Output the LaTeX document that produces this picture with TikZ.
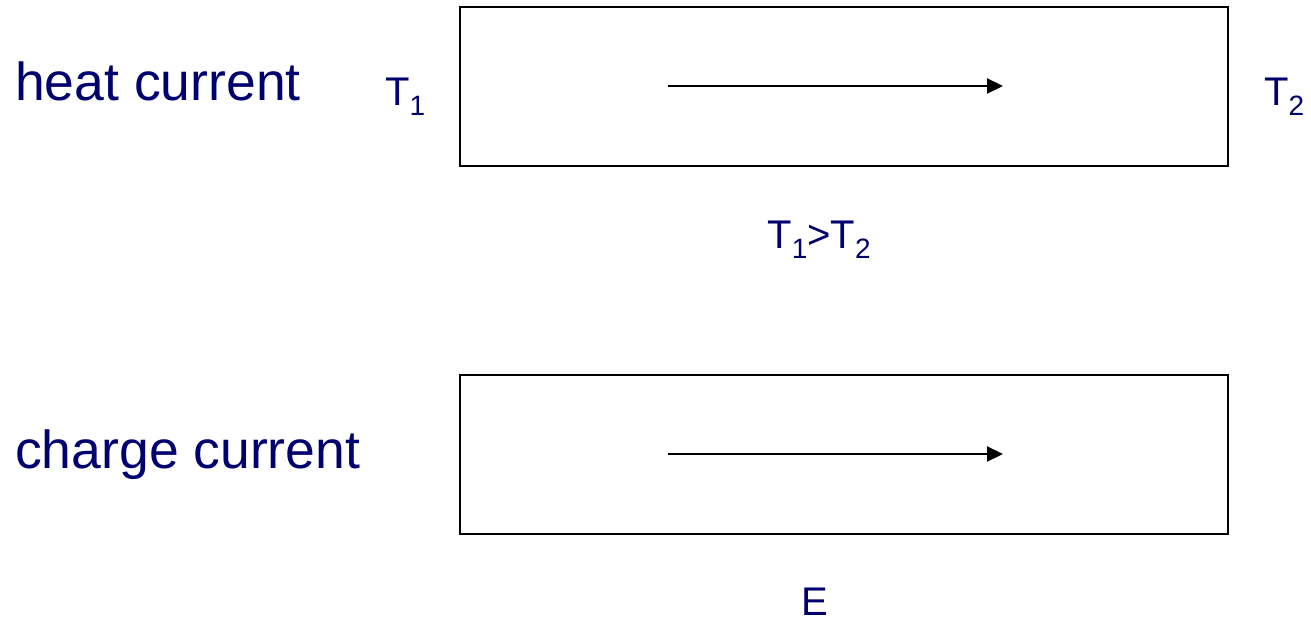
\documentclass[tikz,border=0pt]{standalone}
\usepackage{fontspec}
\setmainfont{Liberation Sans}
\usetikzlibrary{arrows.meta}
\definecolor{navy}{RGB}{0,0,110}
\newcommand{\mysub}[1]{\raisebox{-0.27em}{\fontsize{28}{28}\selectfont #1}}
\tikzset{
  bar/.style={draw=black, line width=1.5pt, inner sep=0pt, minimum width=768pt, minimum height=159pt},
  flow/.style={line width=2.2pt, -{Triangle[length=16pt,width=15pt]}},
  biglabel/.style={text=navy, font=\fontsize{53.5}{60}\selectfont, inner sep=0pt},
  smalllabel/.style={text=navy, font=\fontsize{40}{46}\selectfont, inner sep=0pt}
}
\begin{document}
\begin{tikzpicture}[x=1pt,y=-1pt]
\useasboundingbox (0,0) rectangle (1311,621);
% boxes
\node[bar] (box1) at (844,86.5) {};
\node[bar] (box2) at (844,454.5) {};
% arrows
\coordinate (a1s) at (668,86);
\coordinate (a1e) at (1003,86);
\coordinate (a2s) at (668,454);
\coordinate (a2e) at (1003,454);
\draw[flow] (a1s) -- (a1e);
\draw[flow] (a2s) -- (a2e);
% labels
\node[biglabel, anchor=base west] (heat) at (15,100) {heat current};
\node[biglabel, anchor=base west] (charge) at (15,468) {charge current};
\node[smalllabel, anchor=base west] (t1) at (385,105) {T\mysub{1}};
\node[smalllabel, anchor=base west] (t2) at (1264,105) {T\mysub{2}};
\node[smalllabel, anchor=base] (cmp) at (819,248) {T\mysub{1}>T\mysub{2}};
\node[smalllabel, anchor=base] (e) at (815,615) {E};
\end{tikzpicture}
\end{document}
